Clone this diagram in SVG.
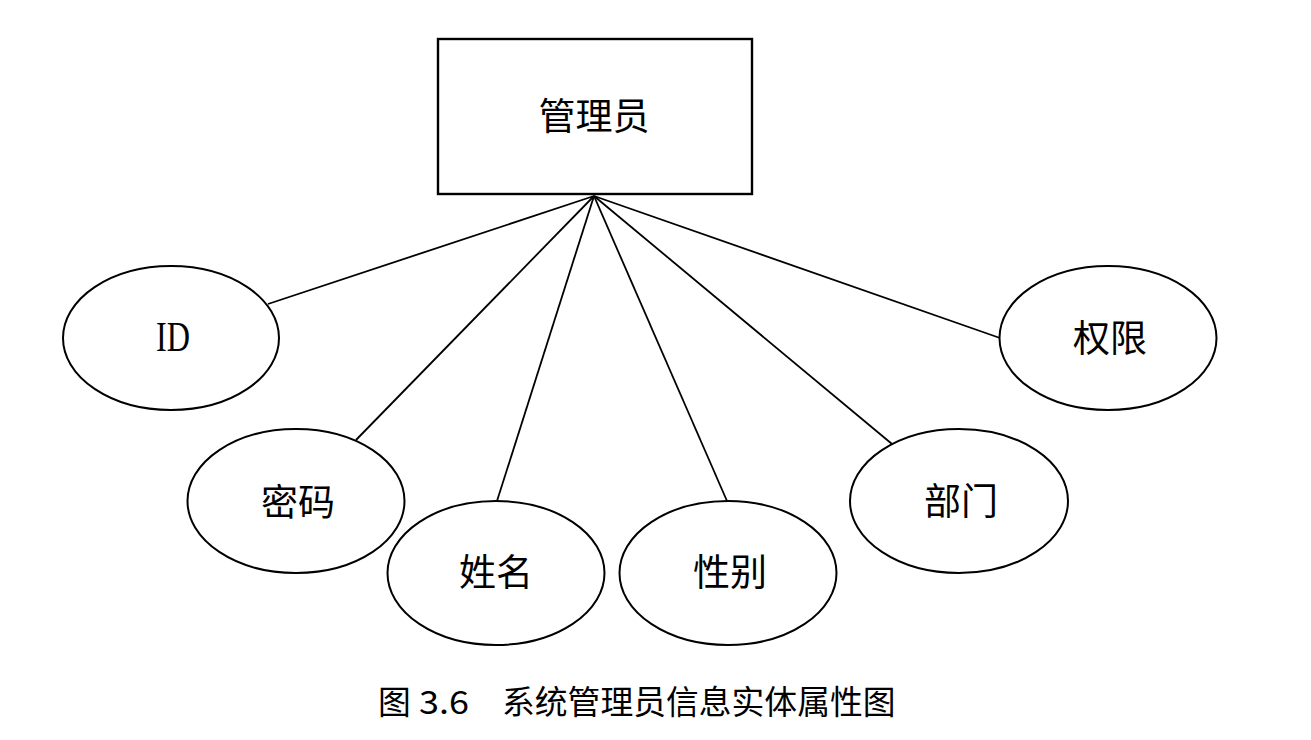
<svg xmlns="http://www.w3.org/2000/svg" width="1311" height="740" viewBox="0 0 1311 740">
<style>
.bg{fill:#ffffff}
.ent{fill:#ffffff;stroke:#000000;stroke-width:2.4}
.attr{fill:#ffffff;stroke:#000000;stroke-width:2}
.conn{stroke:#000000;stroke-width:1.8;fill:none}
.lbl{font-family:"Noto Sans CJK SC","Noto Sans CJK JP",sans-serif;font-size:37px;fill:#000000;text-anchor:middle}
.lat{font-family:"Liberation Serif","Times New Roman",serif;font-size:42px;fill:#000000;text-anchor:middle}
.cap{font-family:"Noto Sans CJK SC","Noto Sans CJK JP",sans-serif;font-size:32.8px;fill:#000000}
</style>
<rect class="bg" x="0" y="0" width="1311" height="740"/>
<g id="connectors">
<line class="conn" x1="594" y1="196" x2="268" y2="304"/>
<line class="conn" x1="594" y1="196" x2="356" y2="440"/>
<line class="conn" x1="594" y1="196" x2="497" y2="501"/>
<line class="conn" x1="594" y1="196" x2="727" y2="501"/>
<line class="conn" x1="594" y1="196" x2="892" y2="444"/>
<line class="conn" x1="594" y1="196" x2="1000" y2="338"/>
</g>
<g id="admin">
<rect class="ent" x="438" y="39" width="314" height="155"/>
<text class="lbl" x="594" y="130">管理员</text>
</g>
<g id="attr-id">
<ellipse class="attr" cx="171" cy="338" rx="108" ry="72"/>
<text class="lat" x="173" y="351" textLength="34" lengthAdjust="spacingAndGlyphs">ID</text>
</g>
<g id="attr-password">
<ellipse class="attr" cx="296" cy="501" rx="108.5" ry="72"/>
<text class="lbl" x="298" y="516">密码</text>
</g>
<g id="attr-name">
<ellipse class="attr" cx="496" cy="573" rx="108.5" ry="72"/>
<text class="lbl" x="496" y="586">姓名</text>
</g>
<g id="attr-gender">
<ellipse class="attr" cx="728" cy="573" rx="108.5" ry="72"/>
<text class="lbl" x="730" y="586">性别</text>
</g>
<g id="attr-dept">
<ellipse class="attr" cx="959" cy="501" rx="109" ry="72"/>
<text class="lbl" x="961" y="515">部门</text>
</g>
<g id="attr-perm">
<ellipse class="attr" cx="1108" cy="338" rx="108.5" ry="72"/>
<text class="lbl" x="1110" y="352">权限</text>
</g>
<g id="caption">
<text class="cap" x="378" y="714">图</text>
<text class="cap" x="419" y="714" textLength="50" lengthAdjust="spacingAndGlyphs">3.6</text>
<text class="cap" x="502" y="714">系统管理员信息实体属性图</text>
</g>
</svg>
